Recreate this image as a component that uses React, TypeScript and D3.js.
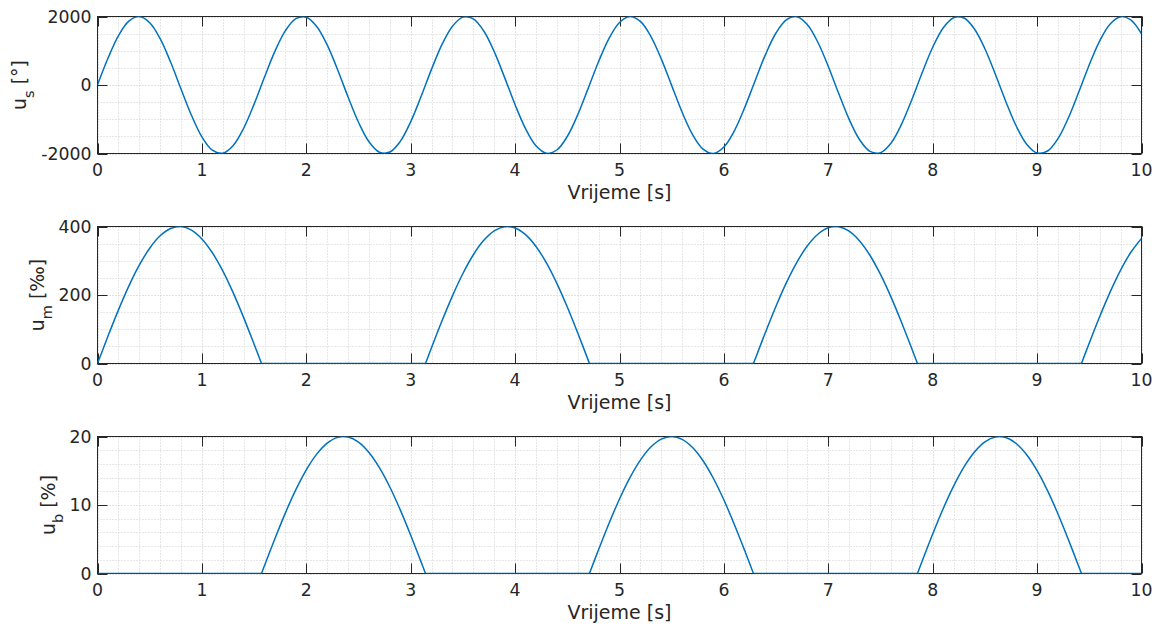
import React from 'react';
import * as d3 from 'd3';

// Sampling interval of the recorded signals [s]
const TIME_STEP = 0.1;

// Steering signal u_s [°], one sample every 0.1 s from 0 to 10 s
const US_DEG = [
  0, 779, 1435, 1864, 1999, 1819, 1351, 670, -117, -885,
  -1514, -1903, -1992, -1767, -1263, -559, 233, 988, 1587, 1936,
  1979, 1709, 1170, 446, -349, -1088, -1656, -1962, -1958, -1646,
  -1073, -331, 463, 1184, 1718, 1981, 1932, 1577, 973, 216,
  -576, -1276, -1775, -1994, -1898, -1502, -869, -99, 687, 1364,
  1826, 2000, 1858, 1422, 763, -18, -795, -1447, -1870, -1999,
  -1811, -1338, -653, 134, 901, 1525, 1909, 1991, 1759, 1249,
  542, -251, -1004, -1598, -1940, -1976, -1700, -1155, -429, 366,
  1103, 1665, 1965, 1955, 1636, 1059, 314, -480, -1198, -1727,
  -1984, -1927, -1566, -957, -198, 593, 1290, 1783, 1995, 1892,
  1490,
];

// Throttle signal u_m [‰]
const UM_PERMILLE = [
  0, 79.5, 155.8, 225.9, 286.9, 336.6, 372.8, 394.2, 399.8, 389.5,
  363.7, 323.4, 270.2, 206.2, 134.0, 56.4, 0, 0, 0, 0,
  0, 0, 0, 0, 0, 0, 0, 0, 0, 0,
  0, 0, 46.6, 124.6, 197.6, 262.8, 317.5, 359.5, 387.2, 399.4,
  395.7, 376.3, 341.8, 293.8, 234.0, 164.8, 89.2, 9.9, 0, 0,
  0, 0, 0, 0, 0, 0, 0, 0, 0, 0,
  0, 0, 0, 13.4, 92.6, 168.1, 236.8, 296.1, 343.7, 377.5,
  396.2, 399.2, 386.4, 357.9, 315.4, 260.0, 194.5, 121.2, 43.1, 0,
  0, 0, 0, 0, 0, 0, 0, 0, 0, 0,
  0, 0, 0, 0, 0, 60.0, 137.3, 209.2, 272.8, 325.5,
  365.2,
];

// Brake signal u_b [%]
const UB_PERCENT = [
  0, 0, 0, 0, 0, 0, 0, 0, 0, 0,
  0, 0, 0, 0, 0, 0, 1.17, 5.11, 8.85, 12.24,
  15.14, 17.43, 19.03, 19.87, 19.92, 19.18, 17.67, 15.46, 12.63, 9.29,
  5.59, 1.66, 0, 0, 0, 0, 0, 0, 0, 0,
  0, 0, 0, 0, 0, 0, 0, 0, 3.49, 7.33,
  10.88, 14.0, 16.56, 18.46, 19.62, 20.0, 19.58, 18.39, 16.46, 13.87,
  10.73, 7.16, 3.31, 0, 0, 0, 0, 0, 0, 0,
  0, 0, 0, 0, 0, 0, 0, 0, 0, 1.84,
  5.76, 9.45, 12.76, 15.57, 17.75, 19.23, 19.94, 19.85, 18.98, 17.34,
  15.02, 12.1, 8.69, 4.94, 0.99, 0, 0, 0, 0, 0,
  0,
];

// Instants where throttle / brake switch on or off (value 0)
const SWITCH_TIMES = [1.571, 3.142, 4.712, 6.283, 7.854, 9.425];

const X_TICKS = [0, 1, 2, 3, 4, 5, 6, 7, 8, 9, 10];
const US_TICKS = [-2000, 0, 2000];
const UM_TICKS = [0, 200, 400];
const UB_TICKS = [0, 10, 20];
const X_LABEL = 'Vrijeme [s]';

type Panel = {
  id: string;
  values: number[];
  domain: [number, number];
  ticks: number[];
  minorStep: number;
  sub: string;
  unit: string;
  top: number;
  withSwitches: boolean;
};

const AX_LEFT = 97.5;
const AX_RIGHT = 1141.5;
const AX_HEIGHT = 137;
const TICK_LEN = 10;
const TICK_FONT = 17.3;
const LABEL_FONT = 19;
const FONT = "'DejaVu Sans', sans-serif";
const AXIS_COLOR = '#262626';
const LINE_COLOR = '#0072BD';

const PANELS: Panel[] = [
  { id: 'us', values: US_DEG, domain: [-2000, 2000], ticks: US_TICKS, minorStep: 500, sub: 's', unit: ' [°]', top: 16.5, withSwitches: false },
  { id: 'um', values: UM_PERMILLE, domain: [0, 400], ticks: UM_TICKS, minorStep: 50, sub: 'm', unit: ' [‰]', top: 226.5, withSwitches: true },
  { id: 'ub', values: UB_PERCENT, domain: [0, 20], ticks: UB_TICKS, minorStep: 2, sub: 'b', unit: ' [%]', top: 436.5, withSwitches: true },
];

let measureCtx: CanvasRenderingContext2D | null = null;
function textWidth(text: string, size: number): number {
  if (!measureCtx) {
    const c = document.createElement('canvas');
    measureCtx = c.getContext('2d');
  }
  if (!measureCtx) return text.length * size * 0.6;
  measureCtx.font = `${size}px 'DejaVu Sans'`;
  return measureCtx.measureText(text).width;
}

// Split the samples into pieces separated by the switching instants, so
// every piece is smooth on its own and the corners stay sharp.
function buildSegments(p: Panel): [number, number][][] {
  const pts: [number, number][] = p.values.map((v, i) => [Math.round(i * TIME_STEP * 100) / 100, v]);
  if (!p.withSwitches) return [pts];
  const segments: [number, number][][] = [];
  let current: [number, number][] = [];
  const cuts = [...SWITCH_TIMES];
  pts.forEach((pt) => {
    while (cuts.length && cuts[0] < pt[0]) {
      const c = cuts.shift() as number;
      current.push([c, 0]);
      segments.push(current);
      current = [[c, 0]];
    }
    current.push(pt);
  });
  segments.push(current);
  return segments;
}

function PanelView({ p }: { p: Panel }) {
  const x = d3.scaleLinear().domain([0, 10]).range([AX_LEFT, AX_RIGHT]);
  const top = p.top;
  const bottom = top + AX_HEIGHT;
  const y = d3.scaleLinear().domain(p.domain).range([bottom, top]);

  const xMinor = d3.range(0, 10.0001, 0.2).filter((v) => Math.abs(v - Math.round(v)) > 1e-6);
  const yMinor = d3
    .range(p.domain[0], p.domain[1] + p.minorStep * 0.01, p.minorStep)
    .filter((v) => !p.ticks.some((t) => Math.abs(t - v) < 1e-9));

  const line = d3
    .line<[number, number]>()
    .x((d) => x(d[0]))
    .y((d) => y(d[1]))
    .curve(d3.curveCatmullRom.alpha(0.5));
  const path = buildSegments(p)
    .map((seg) => line(seg) || '')
    .join('');

  const tickLabelRight = AX_LEFT - 6;
  const maxTickW = d3.max(p.ticks, (t) => textWidth(String(t), TICK_FONT)) || 0;
  const labelBaseX = tickLabelRight - maxTickW - 15;
  const midY = (top + bottom) / 2;
  const clipId = `clip-${p.id}`;

  return (
    <g>
      <defs>
        <clipPath id={clipId}>
          <rect x={AX_LEFT} y={top} width={AX_RIGHT - AX_LEFT} height={AX_HEIGHT} />
        </clipPath>
      </defs>
      {/* minor grid */}
      <g stroke="#cfcfcf" strokeWidth={1} strokeDasharray="1 2" fill="none">
        {xMinor.map((v) => (
          <line key={`xm${v}`} x1={Math.round(x(v)) + 0.5} x2={Math.round(x(v)) + 0.5} y1={top} y2={bottom} />
        ))}
        {yMinor.map((v) => (
          <line key={`ym${v}`} x1={AX_LEFT} x2={AX_RIGHT} y1={Math.round(y(v)) + 0.5} y2={Math.round(y(v)) + 0.5} />
        ))}
      </g>
      {/* major grid */}
      <g stroke="#c4c4c4" strokeWidth={1} strokeDasharray="1 2" fill="none">
        {X_TICKS.map((v) => (
          <line key={`xg${v}`} x1={Math.round(x(v)) + 0.5} x2={Math.round(x(v)) + 0.5} y1={top} y2={bottom} />
        ))}
        {p.ticks.map((v) => (
          <line key={`yg${v}`} x1={AX_LEFT} x2={AX_RIGHT} y1={Math.round(y(v)) + 0.5} y2={Math.round(y(v)) + 0.5} />
        ))}
      </g>
      {/* box and ticks */}
      <g stroke={AXIS_COLOR} strokeWidth={1} fill="none">
        <rect x={AX_LEFT} y={top} width={AX_RIGHT - AX_LEFT} height={AX_HEIGHT} />
        {X_TICKS.map((v) => {
          const xx = Math.round(x(v)) + 0.5;
          return (
            <g key={`xt${v}`}>
              <line x1={xx} x2={xx} y1={bottom} y2={bottom - TICK_LEN} />
              <line x1={xx} x2={xx} y1={top} y2={top + TICK_LEN} />
            </g>
          );
        })}
        {p.ticks.map((v) => {
          const yy = Math.round(y(v)) + 0.5;
          return (
            <g key={`yt${v}`}>
              <line x1={AX_LEFT} x2={AX_LEFT + TICK_LEN} y1={yy} y2={yy} />
              <line x1={AX_RIGHT} x2={AX_RIGHT - TICK_LEN} y1={yy} y2={yy} />
            </g>
          );
        })}
      </g>
      {/* signal */}
      <path d={path} fill="none" stroke={LINE_COLOR} strokeWidth={1.5} strokeLinejoin="round" clipPath={`url(#${clipId})`} />
      {/* tick labels */}
      <g fill={AXIS_COLOR} fontSize={TICK_FONT}>
        {X_TICKS.map((v) => (
          <text key={`xl${v}`} x={x(v)} y={bottom + 22.5} textAnchor="middle">
            {String(v)}
          </text>
        ))}
        {p.ticks.map((v) => (
          <text key={`yl${v}`} x={tickLabelRight} y={y(v) + 6.3} textAnchor="end">
            {String(v)}
          </text>
        ))}
      </g>
      {/* axis labels */}
      <text x={(AX_LEFT + AX_RIGHT) / 2} y={bottom + 45.5} textAnchor="middle" fontSize={LABEL_FONT} fill={AXIS_COLOR}>
        {X_LABEL}
      </text>
      <text
        transform={`translate(${labelBaseX},${midY}) rotate(-90)`}
        textAnchor="middle"
        fontSize={LABEL_FONT}
        fill={AXIS_COLOR}
        style={{ whiteSpace: 'pre' }}
      >
        <tspan>u</tspan>
        <tspan fontSize={14.5} dy={8}>{p.sub}</tspan>
        <tspan dy={-8}>{p.unit}</tspan>
      </text>
    </g>
  );
}

export default function App() {
  return (
    <svg
      width={1163}
      height={628}
      fontFamily={FONT}
      style={{ position: 'absolute', left: 0, top: 0, background: '#ffffff' }}
    >
      <rect x={0} y={0} width={1163} height={628} fill="#ffffff" />
      {PANELS.map((p) => (
        <PanelView key={p.id} p={p} />
      ))}
    </svg>
  );
}
